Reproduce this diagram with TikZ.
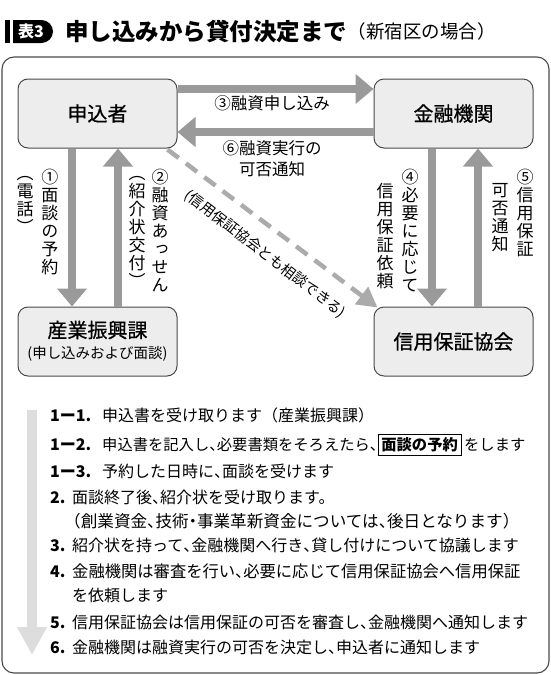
\documentclass[tikz,border=0pt]{standalone}
\usepackage{fontspec}
\setmainfont{Noto Sans CJK JP}
\newfontfamily\vjp[RawFeature=+vert]{Noto Sans CJK JP}
\newfontfamily\jpmed[FakeBold=0.7]{Noto Sans CJK JP}
\usetikzlibrary{arrows.meta,calc}
\definecolor{boxfill}{HTML}{EDEDED}
\definecolor{boxline}{HTML}{4A4A4A}
\definecolor{arrowgray}{HTML}{9A9A9A}
\definecolor{dashgray}{HTML}{ABABAB}
\definecolor{flowgray}{HTML}{DDDDDD}
\definecolor{framegray}{HTML}{4A4A4A}
\newcommand\jc{\makebox[0.5em][l]{、}}
\newcommand\jdot{\makebox[0.5em][c]{・}}
\newcommand\numlab[2]{\makebox[#1][l]{\bfseries #2}}
\begin{document}
\begin{tikzpicture}[x=1pt,y=-1pt,
  box/.style={draw=boxline, fill=boxfill, line width=1pt, rounded corners=10pt,
    minimum width=159pt, minimum height=69pt, inner sep=0pt, font=\jpmed\fontsize{20}{20}\selectfont},
  fat/.style={draw=arrowgray, line width=8pt, -{Triangle[length=18pt,width=29pt]}},
  dasharrow/.style={draw=dashgray, line width=4.5pt, dash pattern=on 14pt off 9pt,
    -{Triangle[length=20pt,width=21pt]}},
  flow/.style={draw=flowgray, line width=10pt, -{Triangle[length=28pt,width=28pt]}},
  vcol/.style={align=center, inner sep=0pt, anchor=north, font=\vjp\fontsize{17}{18}\selectfont},
  lbl/.style={inner sep=0pt, align=center, font=\fontsize{16.5}{21}\selectfont},
  lst/.style={anchor=west, inner sep=0pt, font=\fontsize{16}{18}\selectfont},
]
\useasboundingbox (0,0) rectangle (551,675);

% title
\fill[black] (5,20) rectangle (10,43);
\fill[black] (13,20) -- (41.5,20) arc[start angle=-90,end angle=90,radius=11.5] -- (13,43) -- cycle;
\node[inner sep=0pt, text=white, font=\bfseries\fontsize{16}{16}\selectfont] (hyo) at (31,31.5) {表3};
\node[anchor=west, inner sep=0pt, font=\bfseries\fontsize{23.5}{23.5}\selectfont] (title) at (65,31.5) {申し込みから貸付決定まで};
\node[anchor=west, inner sep=0pt, font=\fontsize{18.5}{18.5}\selectfont] (subtitle) at (title.east) {（新宿区の場合）};

% frame
\draw[draw=framegray, line width=1.1pt, rounded corners=12pt] (2,57) rectangle (549,673);

% boxes
\node[box] (app) at (97.5,113.5) {申込者};
\node[box] (bank) at (453.5,113.5) {金融機関};
\node[box] (sangyo) at (97.5,341.5) {};
\node[inner sep=0pt, font=\jpmed\fontsize{20}{20}\selectfont] (sangyoA) at (97.5,330) {産業振興課};
\node[inner sep=0pt, font=\fontsize{14.5}{14.5}\selectfont] (sangyoB) at (97.5,353.5) {(申し込みおよび面談)};
\node[box] (hosho) at (453.5,341.5) {信用保証協会};

% arrows
\draw[fat] ($(app.east)+(0,-24.5)$) -- ($(bank.west)+(0,-24.5)$);
\draw[fat] ($(bank.west)+(0,18.5)$) -- ($(app.east)+(0,18.5)$);
\draw[fat] ($(app.south)+(-25.5,0)$) -- ($(sangyo.north)+(-25.5,0)$);
\draw[fat] ($(sangyo.north)+(20.5,0)$) -- ($(app.south)+(20.5,0)$);
\draw[fat] ($(bank.south)+(-21.5,0)$) -- ($(hosho.north)+(-21.5,0)$);
\draw[fat] ($(hosho.north)+(24.5,0)$) -- ($(bank.south)+(24.5,0)$);
\draw[dasharrow] ($(app.south east)+(-10,1)$) -- ($(hosho.north west)+(4,1)$);

% horizontal labels
\node[lbl] (l3) at (272,103) {③融資申し込み};
\node[lbl] (l6) at (272,158.5) {⑥融資実行の\\可否通知};
\node[rotate=-37.5, inner sep=0pt, font=\fontsize{14.5}{14.5}\selectfont] (dlab) at (265,254) {(信用保証協会とも相談できる)};

% vertical labels
\node[vcol] (v1) at (50,168.5) {①\\面\\談\\の\\予\\約};
\node[vcol] (v1b) at (25,176) {（\\電\\話\\）};
\node[vcol] (v2) at (160,168.5) {②\\融\\資\\あ\\っ\\せ\\ん};
\node[vcol] (v2b) at (137,176) {（\\紹\\介\\状\\交\\付\\）};
\node[vcol] (v4) at (410,168.5) {④\\必\\要\\に\\応\\じ\\て};
\node[vcol] (v4b) at (385,183.5) {信\\用\\保\\証\\依\\頼};
\node[vcol] (v5) at (525,168.5) {⑤\\信\\用\\保\\証};
\node[vcol] (v5b) at (500,183.5) {可\\否\\通\\知};

% flow arrow
\coordinate (ftop) at (32,410);
\coordinate (fend) at (32,655);
\draw[flow] (ftop) -- (fend);

% list
\node[lst] (s11) at (50,415) {\numlab{52pt}{1ー1.}申込書を受け取ります（産業振興課）};
\node[lst, font=\fontsize{15.3}{18}\selectfont] (s12) at (50,445) {\numlab{52pt}{\fontsize{16}{18}\selectfont 1ー2.}申込書を記入し\jc 必要書類をそろえたら\jc{\fboxsep=3pt\fboxrule=0.8pt\fbox{\bfseries 面談の予約}}\hspace{2.5pt}をします};
\node[lst] (s13) at (50,471) {\numlab{52pt}{1ー3.}予約した日時に\jc 面談を受けます};
\node[lst] (s2) at (50,497) {\numlab{22pt}{2.}面談終了後\jc 紹介状を受け取ります。};
\node[lst, font=\fontsize{16.6}{18}\selectfont] (s2b) at (64,521) {（創業資金\jc 技術\jdot 事業革新資金については\jc 後日となります）};
\node[lst] (s3) at (50,545) {\numlab{22pt}{3.}紹介状を持って\jc 金融機関へ行き\jc 貸し付けについて協議します};
\node[lst] (s4) at (50,571) {\numlab{22pt}{4.}{\fontsize{16.3}{18}\selectfont 金融機関は審査を行い\jc 必要に応じて信用保証協会へ信用保証}};
\node[lst] (s4b) at (72,595) {を依頼します};
\node[lst] (s5) at (50,622) {\numlab{22pt}{5.}信用保証協会は信用保証の可否を審査し\jc 金融機関へ通知します};
\node[lst] (s6) at (50,647) {\numlab{22pt}{6.}金融機関は融資実行の可否を決定し\jc 申込者に通知します};
\end{tikzpicture}
\end{document}
